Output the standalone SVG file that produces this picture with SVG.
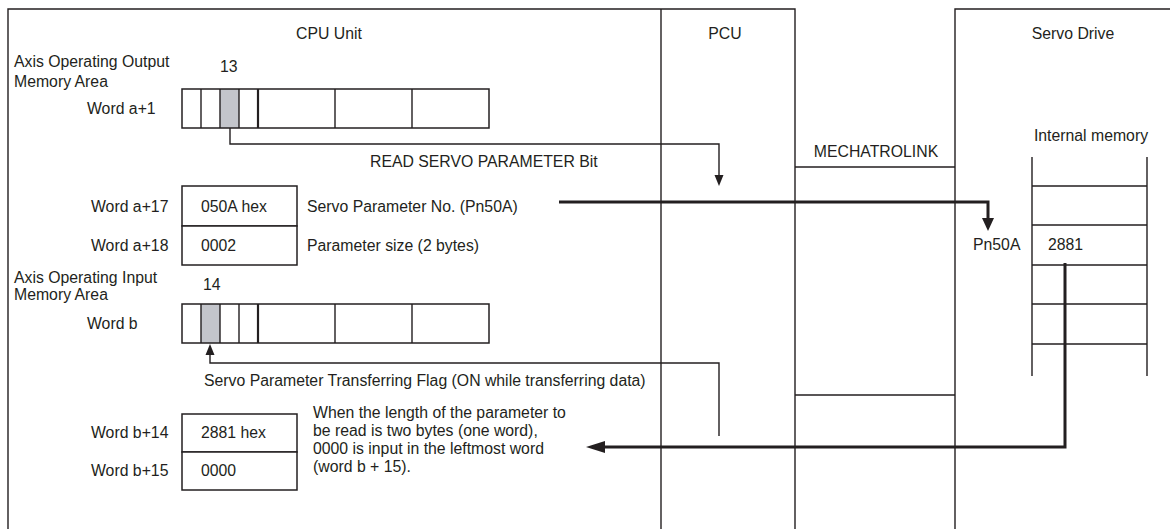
<svg xmlns="http://www.w3.org/2000/svg" width="1170" height="529" viewBox="0 0 1170 529">
<style>
text{font-family:"Liberation Sans",Arial,sans-serif;font-size:15.8px;fill:#231f20}
.ln{stroke:#231f20;stroke-width:1.4;fill:none}
.bx{stroke:#231f20;stroke-width:1.5;fill:#fff}
.th{stroke:#231f20;stroke-width:3;fill:none}
.gr{fill:#c3c5cb}
.mid{text-anchor:middle}
</style>
<rect width="1170" height="529" fill="#fff"/>
<g id="cpu-unit">
<path class="ln" d="M8,529 V9 H795 V529"/>
<path class="ln" d="M661,9 V529"/>
<text x="329" y="39" class="mid">CPU Unit</text>
<text x="14" y="67">Axis Operating Output</text>
<text x="14" y="87">Memory Area</text>
<text x="220" y="72">13</text>
<text x="87" y="114">Word a+1</text>
</g>
<g id="word-a1">
<rect class="gr" x="220" y="89" width="19" height="39"/>
<rect class="bx" x="182" y="89" width="307" height="39" style="fill:none"/>
<path class="ln" d="M201,89V128M220,89V128M239,89V128M335,89V128M412,89V128"/>
<path stroke="#231f20" stroke-width="2.2" d="M258,89V128"/>
</g>
<g id="word-a17">
<rect class="bx" x="182" y="186" width="115" height="40"/>
<rect class="bx" x="182" y="226" width="115" height="39"/>
<text x="91" y="212">Word a+17</text>
<text x="91" y="251">Word a+18</text>
<text x="201" y="212">050A hex</text>
<text x="201" y="251">0002</text>
<text x="307" y="212">Servo Parameter No. (Pn50A)</text>
<text x="307" y="251">Parameter size (2 bytes)</text>
</g>
<g id="word-b">
<text x="14" y="283">Axis Operating Input</text>
<text x="14" y="300">Memory Area</text>
<text x="203" y="290">14</text>
<text x="87" y="329">Word b</text>
<rect class="gr" x="201" y="304" width="19" height="39"/>
<rect class="bx" x="182" y="304" width="307" height="39" style="fill:none"/>
<path class="ln" d="M201,304V343M220,304V343M239,304V343M335,304V343M412,304V343"/>
<path stroke="#231f20" stroke-width="2.2" d="M258,304V343"/>
<text x="204" y="386">Servo Parameter Transferring Flag (ON while transferring data)</text>
</g>
<g id="word-b14">
<rect class="bx" x="182" y="414" width="115" height="38"/>
<rect class="bx" x="182" y="452" width="115" height="38"/>
<text x="91" y="438">Word b+14</text>
<text x="91" y="476">Word b+15</text>
<text x="201" y="438">2881 hex</text>
<text x="201" y="476">0000</text>
<text x="313" y="418">When the length of the parameter to</text>
<text x="313" y="436">be read is two bytes (one word),</text>
<text x="313" y="454">0000 is input in the leftmost word</text>
<text x="313" y="472">(word b + 15).</text>
</g>
<g id="pcu">
<text x="725" y="39" class="mid">PCU</text>
</g>
<g id="mechatrolink">
<path class="ln" d="M795,167H955M795,395H955"/>
<text x="876" y="157" class="mid">MECHATROLINK</text>
</g>
<g id="servo-drive">
<path class="ln" d="M955,529V9H1170"/>
<text x="1073" y="39" class="mid">Servo Drive</text>
<text x="1091" y="141" class="mid">Internal memory</text>
<path class="ln" d="M1032,157V376M1147,157V376"/>
<path stroke="#231f20" stroke-width="1.6" d="M1032,186H1147M1032,225H1147M1032,265H1147M1032,304H1147M1032,344H1147"/>
<text x="973" y="250">Pn50A</text>
<text x="1048" y="250">2881</text>
</g>
<g id="connectors">
<path class="ln" d="M230,128V144H719V177"/>
<path d="M714.5,175 L723.5,175 L719,186 z" fill="#231f20"/>
<text x="370" y="167">READ SERVO PARAMETER Bit</text>
<path class="th" d="M559,202H988V220"/>
<path d="M982,218 L994,218 L988,231 z" fill="#231f20"/>
<path class="th" d="M1065,263V447H600"/>
<path d="M605,441 L605,453 L586,447 z" fill="#231f20"/>
<path class="ln" d="M719,436V363H210V353"/>
<path d="M205.5,355 L214.5,355 L210,344 z" fill="#231f20"/>
</g>
</svg>
